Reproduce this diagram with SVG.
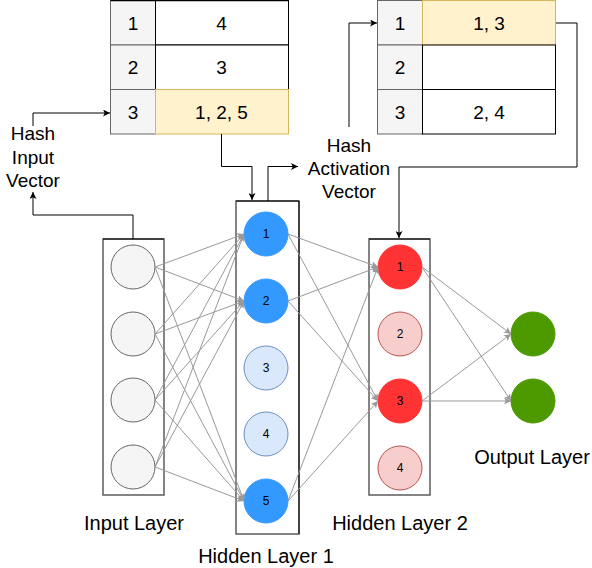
<svg xmlns="http://www.w3.org/2000/svg" width="592" height="568" viewBox="0 0 592 568">
<defs>
<marker id="ga" viewBox="0 0 10 10" refX="10" refY="5" markerWidth="7" markerHeight="7" orient="auto" markerUnits="userSpaceOnUse"><path d="M0,0 L10,5 L0,10 L2.5,5 Z" fill="#999"/></marker>
<marker id="ba" viewBox="0 0 10 10" refX="10" refY="5" markerWidth="7" markerHeight="7" orient="auto" markerUnits="userSpaceOnUse"><path d="M0,0 L10,5 L0,10 L2.5,5 Z" fill="#000"/></marker>
<style>
text{font-family:"Liberation Sans",Arial,sans-serif;fill:#000;text-anchor:middle}
.t{font-size:19px}
.l{font-size:20px}
.n{font-size:12px}
.key{fill:#f5f5f5;stroke:#666;stroke-width:1}
.val{fill:#fff;stroke:#000;stroke-width:1}
.hl{fill:#fff2cc;stroke:#d6b656;stroke-width:1}
.box{fill:none;stroke:#666;stroke-width:1.6}
.boxtop{stroke:#000;stroke-width:1}
.in{fill:#f5f5f5;stroke:#666;stroke-width:1}
.ha{fill:#3399ff;stroke:#3399ff;stroke-width:1}
.hi{fill:#dae8fc;stroke:#6c8ebf;stroke-width:1}
.ra{fill:#ff3333;stroke:#ff3333;stroke-width:1}
.ri{fill:#f8cecc;stroke:#b85450;stroke-width:1}
.out{fill:#4d9900;stroke:#4d9900;stroke-width:1}
.e{fill:none;stroke:#999;stroke-width:1;marker-end:url(#ga)}
.b{fill:none;stroke:#000;stroke-width:1;marker-end:url(#ba)}
</style>
</defs>

<g id="table1">
<rect class="key" x="110.5" y="0.5" width="45" height="44.5"/>
<rect class="key" x="110.5" y="45" width="45" height="44.5"/>
<rect class="key" x="110.5" y="89.5" width="45" height="44.5"/>
<rect class="val" x="155.5" y="0.5" width="133" height="44.5"/>
<rect class="val" x="155.5" y="45" width="133" height="44.5"/>
<rect class="hl" x="155.5" y="89.5" width="133" height="44.5"/>
<line x1="110.5" y1="0.5" x2="288.5" y2="0.5" stroke="#000" stroke-width="1.5"/>
<text class="t" x="133" y="29.5">1</text>
<text class="t" x="221.5" y="29.5">4</text>
<text class="t" x="133" y="74">2</text>
<text class="t" x="221.5" y="74">3</text>
<text class="t" x="133" y="118.5">3</text>
<text class="t" x="221.5" y="118.5">1, 2, 5</text>
</g>

<g id="table2">
<rect class="key" x="377.5" y="0.5" width="45" height="44.5"/>
<rect class="key" x="377.5" y="45" width="45" height="44.5"/>
<rect class="key" x="377.5" y="89.5" width="45" height="44.5"/>
<rect class="hl" x="422.5" y="0.5" width="133" height="44.5"/>
<rect class="val" x="422.5" y="45" width="133" height="44.5"/>
<rect class="val" x="422.5" y="89.5" width="133" height="44.5"/>
<text class="t" x="400" y="29.5">1</text>
<text class="t" x="489" y="29.5">1, 3</text>
<text class="t" x="400" y="74">2</text>
<text class="t" x="400" y="118.5">3</text>
<text class="t" x="489" y="118.5">2, 4</text>
</g>

<g id="hash-input-label">
<text class="t" x="33" y="140">Hash</text>
<text class="t" x="33" y="164">Input</text>
<text class="t" x="33" y="187">Vector</text>
</g>

<g id="hash-activation-label">
<text class="t" x="349" y="152">Hash</text>
<text class="t" x="349" y="175">Activation</text>
<text class="t" x="349" y="198">Vector</text>
</g>

<g id="input-layer">
<rect class="box" x="103" y="239" width="61" height="256"/>
<line class="boxtop" x1="103" y1="239" x2="164" y2="239"/>
<circle class="in" cx="133" cy="267" r="22"/>
<circle class="in" cx="133" cy="334" r="22"/>
<circle class="in" cx="133" cy="400" r="22"/>
<circle class="in" cx="133" cy="467" r="22"/>
<text class="l" x="134" y="530">Input Layer</text>
</g>

<g id="hidden-layer-1">
<rect class="box" x="236" y="201" width="63" height="333"/>
<line class="boxtop" x1="236" y1="201" x2="299" y2="201"/>
<line x1="299" y1="201" x2="299" y2="534" stroke="#000" stroke-width="1"/>
<circle class="ha" cx="266" cy="234" r="22"/>
<circle class="ha" cx="266" cy="301" r="22"/>
<circle class="hi" cx="266" cy="368" r="22"/>
<circle class="hi" cx="266" cy="434" r="22"/>
<circle class="ha" cx="266" cy="501" r="22"/>
<text class="n" x="266" y="238">1</text>
<text class="n" x="266" y="305">2</text>
<text class="n" x="266" y="372">3</text>
<text class="n" x="266" y="438">4</text>
<text class="n" x="266" y="505">5</text>
<text class="l" x="266" y="563">Hidden Layer 1</text>
</g>

<g id="hidden-layer-2">
<rect class="box" x="369" y="239" width="61" height="256"/>
<line class="boxtop" x1="369" y1="239" x2="430" y2="239"/>
<circle class="ra" cx="400" cy="267" r="22"/>
<circle class="ri" cx="400" cy="334" r="22"/>
<circle class="ra" cx="400" cy="401" r="22"/>
<circle class="ri" cx="400" cy="468" r="22"/>
<text class="n" x="400" y="271">1</text>
<text class="n" x="400" y="338">2</text>
<text class="n" x="400" y="405">3</text>
<text class="n" x="400" y="472">4</text>
<text class="l" x="400" y="530">Hidden Layer 2</text>
</g>

<g id="output-layer">
<circle class="out" cx="533" cy="334" r="22"/>
<circle class="out" cx="533" cy="401" r="22"/>
<text class="l" x="532" y="464">Output Layer</text>
</g>

<g id="connectors">
<path class="e" d="M155,267 L244,234"/>
<path class="e" d="M155,267 L244,301"/>
<path class="e" d="M155,267 L244,501"/>
<path class="e" d="M155,334 L244,234"/>
<path class="e" d="M155,334 L244,301"/>
<path class="e" d="M155,334 L244,501"/>
<path class="e" d="M155,400 L244,234"/>
<path class="e" d="M155,400 L244,301"/>
<path class="e" d="M155,400 L244,501"/>
<path class="e" d="M155,467 L244,234"/>
<path class="e" d="M155,467 L244,301"/>
<path class="e" d="M155,467 L244,501"/>
<path class="e" d="M288,234 L378,267"/>
<path class="e" d="M288,234 L378,401"/>
<path class="e" d="M288,301 L378,267"/>
<path class="e" d="M288,301 L378,401"/>
<path class="e" d="M288,501 L378,267"/>
<path class="e" d="M288,501 L378,401"/>
<path class="e" d="M422,267 L511,334"/>
<path class="e" d="M422,267 L511,401"/>
<path class="e" d="M422,401 L511,334"/>
<path class="e" d="M422,401 L511,401"/>
<path class="b" d="M33,126 V113 H110"/>
<path class="b" d="M133,239 V215 H33 V192"/>
<path class="b" d="M221.5,134 V166.5 H252 V200"/>
<path class="b" d="M268,201 V166.5 H298"/>
<path class="b" d="M349,127 V23 H377"/>
<path class="b" d="M556,23 H577 V167 H399 V238"/>
</g>
</svg>
